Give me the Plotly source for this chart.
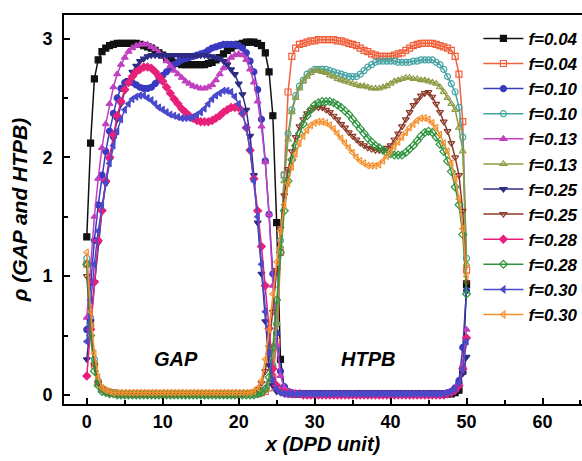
import plotly.graph_objects as go

# x positions (DPD units), every 0.5
X = [0.0, 0.5, 1.0, 1.5, 2.0, 2.5, 3.0, 3.5, 4.0, 4.5,
     5.0, 5.5, 6.0, 6.5, 7.0, 7.5, 8.0, 8.5, 9.0, 9.5,
     10.0, 10.5, 11.0, 11.5, 12.0, 12.5, 13.0, 13.5, 14.0, 14.5,
     15.0, 15.5, 16.0, 16.5, 17.0, 17.5, 18.0, 18.5, 19.0, 19.5,
     20.0, 20.5, 21.0, 21.5, 22.0, 22.5, 23.0, 23.5, 24.0, 24.5,
     25.0, 25.5, 26.0, 26.5, 27.0, 27.5, 28.0, 28.5, 29.0, 29.5,
     30.0, 30.5, 31.0, 31.5, 32.0, 32.5, 33.0, 33.5, 34.0, 34.5,
     35.0, 35.5, 36.0, 36.5, 37.0, 37.5, 38.0, 38.5, 39.0, 39.5,
     40.0, 40.5, 41.0, 41.5, 42.0, 42.5, 43.0, 43.5, 44.0, 44.5,
     45.0, 45.5, 46.0, 46.5, 47.0, 47.5, 48.0, 48.5, 49.0, 49.5,
     50.0]

# GAP density profiles
gap_004 = [1.33, 2.12, 2.66, 2.82, 2.89, 2.92, 2.94, 2.95, 2.96, 2.96,
           2.96, 2.96, 2.96, 2.96, 2.95, 2.94, 2.93, 2.92, 2.90, 2.88,
           2.86, 2.84, 2.82, 2.80, 2.79, 2.78, 2.78, 2.78, 2.78, 2.78,
           2.78, 2.78, 2.79, 2.80, 2.82, 2.84, 2.87, 2.90, 2.92, 2.94,
           2.95, 2.96, 2.97, 2.97, 2.97, 2.96, 2.94, 2.88, 2.72, 2.35,
           1.45, 0.30, 0.05, 0.02, 0.01, 0.01, 0.01, 0.01, 0.01, 0.01,
           0.01, 0.01, 0.01, 0.01, 0.01, 0.01, 0.01, 0.01, 0.01, 0.01,
           0.01, 0.01, 0.01, 0.01, 0.01, 0.01, 0.01, 0.01, 0.01, 0.01,
           0.01, 0.01, 0.01, 0.01, 0.01, 0.01, 0.01, 0.01, 0.01, 0.01,
           0.01, 0.01, 0.01, 0.01, 0.01, 0.01, 0.01, 0.02, 0.04, 0.20,
           0.93]
gap_010 = [0.55, 0.95, 1.30, 1.60, 1.85, 2.05, 2.22, 2.37, 2.50, 2.58,
           2.63, 2.64, 2.63, 2.61, 2.59, 2.58, 2.58, 2.59, 2.62, 2.65,
           2.69, 2.72, 2.75, 2.78, 2.80, 2.82, 2.83, 2.84, 2.85, 2.86,
           2.87, 2.88, 2.90, 2.92, 2.93, 2.94, 2.95, 2.95, 2.95, 2.95,
           2.94, 2.92, 2.88, 2.81, 2.72, 2.57, 2.32, 1.97, 1.52, 1.02,
           0.52, 0.20, 0.07, 0.03, 0.02, 0.01, 0.01, 0.01, 0.01, 0.01,
           0.01, 0.01, 0.01, 0.01, 0.01, 0.01, 0.01, 0.01, 0.01, 0.01,
           0.01, 0.01, 0.01, 0.01, 0.01, 0.01, 0.01, 0.01, 0.01, 0.01,
           0.01, 0.01, 0.01, 0.01, 0.01, 0.01, 0.01, 0.01, 0.01, 0.01,
           0.01, 0.01, 0.01, 0.01, 0.01, 0.02, 0.03, 0.06, 0.12, 0.40,
           0.88]
gap_013 = [0.65, 1.10, 1.50, 1.82, 2.08, 2.28, 2.45, 2.59, 2.70, 2.78,
           2.84, 2.89, 2.92, 2.94, 2.95, 2.95, 2.95, 2.93, 2.91, 2.88,
           2.85, 2.81, 2.77, 2.73, 2.70, 2.67, 2.64, 2.62, 2.60, 2.59,
           2.58, 2.58, 2.59, 2.61, 2.65, 2.70, 2.75, 2.80, 2.84, 2.86,
           2.87, 2.86, 2.82, 2.74, 2.63, 2.47, 2.26, 1.96, 1.52, 0.92,
           0.42, 0.16, 0.06, 0.03, 0.02, 0.01, 0.01, 0.00, 0.00, 0.00,
           0.00, 0.00, 0.00, 0.00, 0.00, 0.00, 0.00, 0.00, 0.00, 0.00,
           0.00, 0.00, 0.00, 0.00, 0.00, 0.00, 0.00, 0.00, 0.00, 0.00,
           0.00, 0.00, 0.00, 0.00, 0.00, 0.00, 0.00, 0.00, 0.00, 0.00,
           0.00, 0.00, 0.00, 0.00, 0.00, 0.01, 0.02, 0.04, 0.08, 0.25,
           0.55]
gap_025 = [0.30, 0.62, 0.95, 1.28, 1.55, 1.78, 1.98, 2.16, 2.32, 2.45,
           2.56, 2.65, 2.72, 2.77, 2.81, 2.83, 2.85, 2.86, 2.86, 2.86,
           2.86, 2.86, 2.86, 2.86, 2.86, 2.86, 2.86, 2.86, 2.86, 2.86,
           2.86, 2.86, 2.85, 2.85, 2.84, 2.83, 2.81, 2.78, 2.74, 2.70,
           2.62, 2.53, 2.40, 2.18, 1.85, 1.45, 1.02, 0.62, 0.25, 0.08,
           0.03, 0.02, 0.01, 0.01, 0.01, 0.01, 0.01, 0.01, 0.01, 0.01,
           0.01, 0.01, 0.01, 0.01, 0.01, 0.01, 0.01, 0.01, 0.01, 0.01,
           0.01, 0.01, 0.01, 0.01, 0.01, 0.01, 0.01, 0.01, 0.01, 0.01,
           0.01, 0.01, 0.01, 0.01, 0.01, 0.01, 0.01, 0.01, 0.01, 0.01,
           0.01, 0.01, 0.01, 0.01, 0.01, 0.02, 0.03, 0.05, 0.09, 0.18,
           0.32]
gap_028 = [0.16, 0.55, 0.95, 1.30, 1.55, 1.80, 2.00, 2.19, 2.35, 2.47,
           2.57, 2.63, 2.68, 2.72, 2.74, 2.76, 2.76, 2.75, 2.72, 2.68,
           2.64, 2.59, 2.54, 2.49, 2.45, 2.41, 2.38, 2.35, 2.33, 2.31,
           2.30, 2.30, 2.30, 2.31, 2.33, 2.35, 2.38, 2.40, 2.42, 2.42,
           2.42, 2.37, 2.25, 2.06, 1.82, 1.55, 1.25, 0.92, 0.56, 0.22,
           0.08, 0.03, 0.02, 0.01, 0.01, 0.01, 0.01, 0.00, 0.00, 0.00,
           0.00, 0.00, 0.00, 0.00, 0.00, 0.00, 0.00, 0.00, 0.00, 0.00,
           0.00, 0.00, 0.00, 0.00, 0.00, 0.00, 0.00, 0.00, 0.00, 0.00,
           0.00, 0.00, 0.00, 0.00, 0.00, 0.00, 0.00, 0.00, 0.00, 0.00,
           0.00, 0.00, 0.00, 0.00, 0.00, 0.01, 0.02, 0.04, 0.08, 0.22,
           0.48]
gap_030 = [0.45, 0.80, 1.10, 1.38, 1.60, 1.79, 1.95, 2.10, 2.22, 2.32,
           2.40, 2.45, 2.49, 2.51, 2.52, 2.52, 2.50, 2.48, 2.45, 2.42,
           2.40, 2.38, 2.36, 2.35, 2.34, 2.33, 2.33, 2.33, 2.34, 2.36,
           2.38, 2.41, 2.45, 2.49, 2.52, 2.54, 2.56, 2.56, 2.55, 2.51,
           2.45, 2.37, 2.25, 2.06, 1.80, 1.50, 1.10, 0.70, 0.35, 0.12,
           0.05, 0.02, 0.01, 0.01, 0.01, 0.01, 0.01, 0.01, 0.01, 0.01,
           0.01, 0.01, 0.01, 0.01, 0.01, 0.01, 0.01, 0.01, 0.01, 0.01,
           0.01, 0.01, 0.01, 0.01, 0.01, 0.01, 0.01, 0.01, 0.01, 0.01,
           0.01, 0.01, 0.01, 0.01, 0.01, 0.01, 0.01, 0.01, 0.01, 0.01,
           0.01, 0.01, 0.01, 0.01, 0.01, 0.02, 0.03, 0.05, 0.10, 0.22,
           0.45]

# HTPB density profiles
htpb_004 = [1.10, 0.60, 0.25, 0.10, 0.05, 0.03, 0.02, 0.02, 0.01, 0.01,
            0.01, 0.01, 0.01, 0.01, 0.01, 0.01, 0.01, 0.01, 0.01, 0.01,
            0.01, 0.01, 0.01, 0.01, 0.01, 0.01, 0.01, 0.01, 0.01, 0.01,
            0.01, 0.01, 0.01, 0.01, 0.01, 0.01, 0.01, 0.01, 0.01, 0.01,
            0.01, 0.01, 0.01, 0.01, 0.01, 0.01, 0.02, 0.03, 0.06, 0.15,
            0.45, 1.20, 1.85, 2.55, 2.85, 2.92, 2.95, 2.96, 2.97, 2.98,
            2.98, 2.99, 2.99, 2.99, 2.99, 2.99, 2.98, 2.98, 2.97, 2.96,
            2.95, 2.94, 2.92, 2.90, 2.89, 2.87, 2.86, 2.85, 2.85, 2.85,
            2.85, 2.86, 2.87, 2.88, 2.90, 2.92, 2.94, 2.95, 2.96, 2.96,
            2.96, 2.96, 2.95, 2.94, 2.93, 2.92, 2.90, 2.85, 2.70, 2.30,
            1.05]
htpb_010 = [1.15, 0.65, 0.30, 0.12, 0.05, 0.03, 0.02, 0.02, 0.01, 0.01,
            0.01, 0.01, 0.01, 0.01, 0.01, 0.01, 0.01, 0.01, 0.01, 0.01,
            0.01, 0.01, 0.01, 0.01, 0.01, 0.01, 0.01, 0.01, 0.01, 0.01,
            0.01, 0.01, 0.01, 0.01, 0.01, 0.01, 0.01, 0.01, 0.01, 0.01,
            0.01, 0.01, 0.01, 0.01, 0.01, 0.01, 0.02, 0.05, 0.10, 0.25,
            0.60, 1.30, 1.85, 2.20, 2.40, 2.52, 2.60, 2.65, 2.70, 2.72,
            2.74, 2.74, 2.74, 2.74, 2.73, 2.72, 2.71, 2.70, 2.69, 2.68,
            2.68, 2.68, 2.70, 2.73, 2.76, 2.78, 2.80, 2.81, 2.81, 2.81,
            2.81, 2.81, 2.80, 2.80, 2.80, 2.80, 2.81, 2.81, 2.82, 2.82,
            2.82, 2.82, 2.80, 2.78, 2.74, 2.68, 2.62, 2.55, 2.42, 2.17,
            1.15]
htpb_013 = [1.10, 0.60, 0.28, 0.10, 0.05, 0.03, 0.02, 0.02, 0.01, 0.01,
            0.01, 0.01, 0.01, 0.01, 0.01, 0.01, 0.01, 0.01, 0.01, 0.01,
            0.01, 0.01, 0.01, 0.01, 0.01, 0.01, 0.01, 0.01, 0.01, 0.01,
            0.01, 0.01, 0.01, 0.01, 0.01, 0.01, 0.01, 0.01, 0.01, 0.01,
            0.01, 0.01, 0.01, 0.01, 0.01, 0.01, 0.02, 0.04, 0.10, 0.25,
            0.60, 1.25, 1.80, 2.15, 2.38, 2.50, 2.58, 2.64, 2.68, 2.71,
            2.73, 2.73, 2.72, 2.71, 2.69, 2.68, 2.66, 2.65, 2.64, 2.63,
            2.62, 2.61, 2.60, 2.60, 2.59, 2.58, 2.58, 2.58, 2.59, 2.60,
            2.62, 2.64, 2.65, 2.66, 2.67, 2.67, 2.66, 2.66, 2.65, 2.65,
            2.64, 2.63, 2.62, 2.59, 2.55, 2.50, 2.45, 2.40, 2.25, 2.05,
            1.10]
htpb_025 = [1.00, 0.55, 0.25, 0.10, 0.05, 0.03, 0.02, 0.02, 0.01, 0.01,
            0.01, 0.01, 0.01, 0.01, 0.01, 0.01, 0.01, 0.01, 0.01, 0.01,
            0.01, 0.01, 0.01, 0.01, 0.01, 0.01, 0.01, 0.01, 0.01, 0.01,
            0.01, 0.01, 0.01, 0.01, 0.01, 0.01, 0.01, 0.01, 0.01, 0.01,
            0.01, 0.01, 0.02, 0.02, 0.03, 0.05, 0.10, 0.20, 0.40, 0.70,
            1.05, 1.40, 1.68, 1.90, 2.05, 2.17, 2.26, 2.32, 2.37, 2.40,
            2.42, 2.42, 2.42, 2.40, 2.38, 2.35, 2.32, 2.28, 2.25, 2.21,
            2.18, 2.15, 2.12, 2.10, 2.08, 2.07, 2.06, 2.06, 2.06, 2.08,
            2.10, 2.15, 2.20, 2.26, 2.32, 2.38, 2.44, 2.48, 2.52, 2.54,
            2.55, 2.51, 2.45, 2.38, 2.30, 2.22, 2.12, 2.00, 1.85, 1.55,
            0.95]
htpb_028 = [1.10, 0.50, 0.20, 0.08, 0.03, 0.02, 0.01, 0.01, 0.00, 0.00,
            0.00, 0.00, 0.00, 0.00, 0.00, 0.00, 0.00, 0.00, 0.00, 0.00,
            0.00, 0.00, 0.00, 0.00, 0.00, 0.00, 0.00, 0.00, 0.00, 0.00,
            0.00, 0.00, 0.00, 0.00, 0.00, 0.00, 0.00, 0.00, 0.00, 0.00,
            0.00, 0.00, 0.00, 0.00, 0.00, 0.01, 0.02, 0.05, 0.15, 0.40,
            0.80, 1.20, 1.55, 1.80, 1.98, 2.10, 2.20, 2.28, 2.35, 2.40,
            2.44, 2.46, 2.47, 2.47, 2.47, 2.46, 2.44, 2.42, 2.39, 2.36,
            2.32, 2.28, 2.24, 2.20, 2.16, 2.13, 2.10, 2.08, 2.06, 2.04,
            2.03, 2.02, 2.02, 2.02, 2.04, 2.07, 2.10, 2.14, 2.18, 2.21,
            2.22, 2.21, 2.17, 2.11, 2.05, 1.97, 1.88, 1.75, 1.60, 1.35,
            0.85]
htpb_030 = [1.20, 0.70, 0.35, 0.15, 0.06, 0.04, 0.03, 0.02, 0.02, 0.02,
            0.02, 0.02, 0.02, 0.02, 0.02, 0.02, 0.02, 0.02, 0.02, 0.02,
            0.02, 0.02, 0.02, 0.02, 0.02, 0.02, 0.02, 0.02, 0.02, 0.02,
            0.02, 0.02, 0.02, 0.02, 0.02, 0.02, 0.02, 0.02, 0.02, 0.02,
            0.02, 0.02, 0.02, 0.02, 0.03, 0.06, 0.12, 0.30, 0.55, 0.85,
            1.12, 1.38, 1.60, 1.78, 1.92, 2.03, 2.12, 2.18, 2.23, 2.27,
            2.29, 2.30, 2.30, 2.29, 2.27, 2.24, 2.20, 2.16, 2.12, 2.08,
            2.04, 2.00, 1.97, 1.95, 1.93, 1.93, 1.93, 1.94, 1.97, 2.01,
            2.05, 2.09, 2.13, 2.17, 2.21, 2.25, 2.28, 2.31, 2.33, 2.33,
            2.32, 2.29, 2.25, 2.19, 2.12, 2.05, 1.95, 1.82, 1.65, 1.40,
            1.00]

labels = ["f=0.04", "f=0.04", "f=0.10", "f=0.10", "f=0.13", "f=0.13",
          "f=0.25", "f=0.25", "f=0.28", "f=0.28", "f=0.30", "f=0.30"]
data = [gap_004, htpb_004, gap_010, htpb_010, gap_013, htpb_013,
        gap_025, htpb_025, gap_028, htpb_028, gap_030, htpb_030]
colors = ["#111111", "#F0603A", "#3A3AC0", "#45A3A3", "#C040C0", "#8E9C45",
          "#2C2C85", "#8C3A28", "#E8207A", "#2F9440", "#4A4ACC", "#F5902E"]
symbols = ["square", "square-open", "circle", "circle-open", "triangle-up", "triangle-up-open",
           "triangle-down", "triangle-down-open", "diamond", "diamond-open", "triangle-left", "triangle-left-open"]

fig = go.Figure()
for name, y, c, s in zip(labels, data, colors, symbols):
    fig.add_trace(go.Scatter(
        x=X, y=y, mode="lines+markers", name=name,
        line=dict(color=c, width=1.5),
        marker=dict(symbol=s, size=6, color=c, line=dict(color=c, width=1.2)),
    ))

fig.add_annotation(x=11.7, y=0.30, text="GAP", showarrow=False,
                   font=dict(size=20, weight="bold", style="italic", color="black"))
fig.add_annotation(x=37.0, y=0.30, text="HTPB", showarrow=False,
                   font=dict(size=20, weight="bold", style="italic", color="black"))

fig.update_layout(
    width=582, height=461,
    margin=dict(l=64, r=0, t=15, b=57, autoexpand=False),
    paper_bgcolor="white", plot_bgcolor="white",
    font=dict(family="Liberation Sans, Arial, sans-serif", color="black"),
    legend=dict(x=0.80, y=0.985, xanchor="left", yanchor="top",
                bgcolor="rgba(0,0,0,0)", tracegroupgap=0, itemwidth=40,
                font=dict(size=17, weight="bold", style="italic", color="black")),
)
fig.update_xaxes(
    range=[-3, 65.2], tick0=0, dtick=10, ticks="inside", ticklen=6, tickwidth=1.5, tickcolor="black",
    minor=dict(dtick=5, tick0=0, ticks="inside", ticklen=4, tickwidth=1.5, tickcolor="black"),
    showline=True, linewidth=2, linecolor="black", mirror=True,
    showgrid=False, zeroline=False,
    tickfont=dict(size=18, weight="bold"),
    title=dict(text="x (DPD unit)", font=dict(size=20, weight="bold", style="italic"), standoff=6),
)
fig.update_yaxes(
    range=[-0.076, 3.198], tick0=0, dtick=1, ticks="inside", ticklen=6, tickwidth=1.5, tickcolor="black",
    minor=dict(dtick=0.5, tick0=0, ticks="inside", ticklen=4, tickwidth=1.5, tickcolor="black"),
    showline=True, linewidth=2, linecolor="black", mirror=False,
    showgrid=False, zeroline=False,
    tickfont=dict(size=18, weight="bold"), ticklabelstandoff=6,
    title=dict(text="ρ (GAP and HTPB)", font=dict(size=21, weight="bold", style="italic"), standoff=9),
)

fig.write_html("out.html")
